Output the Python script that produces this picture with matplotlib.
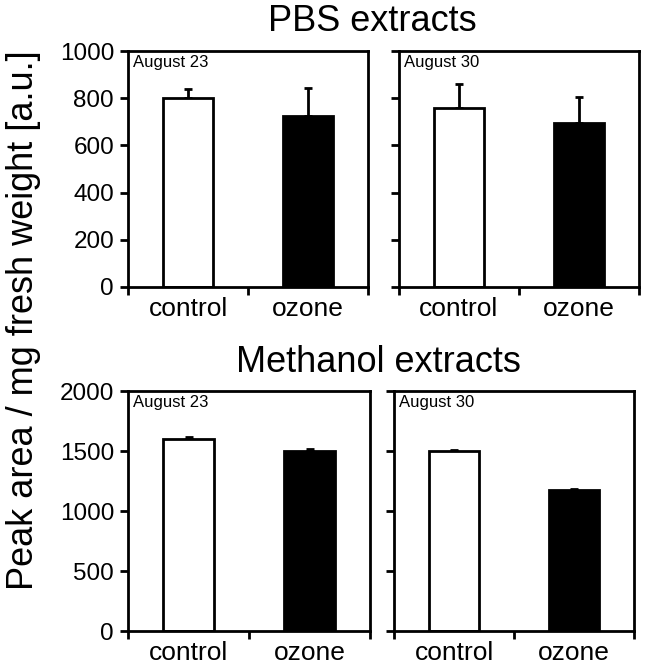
import matplotlib
matplotlib.use("Agg")
import matplotlib.pyplot as plt

plt.rcParams['font.family'] = ['Liberation Sans', 'DejaVu Sans']

categories = ["control", "ozone"]
dates = ["August 23", "August 30"]
pbs_values = [[800, 725], [760, 695]]
pbs_errors = [[40, 120], [100, 110]]
meth_values = [[1600, 1500], [1500, 1175]]
meth_errors = [[20, 15], [5, 5]]
pbs_ticks = [0, 200, 400, 600, 800, 1000]
meth_ticks = [0, 500, 1000, 1500, 2000]

W, H = 647, 672
fig = plt.figure(figsize=(W / 100, H / 100), dpi=100)

def ax_at(l, t, r, b):
    return fig.add_axes([l / W, 1 - b / H, (r - l) / W, (b - t) / H])

boxes = [
    [(128, 51, 368, 287), (399, 51, 639, 287)],
    [(128, 391, 370, 631), (394, 391, 634, 631)],
]
rows = [(pbs_values, pbs_errors, pbs_ticks, 1000), (meth_values, meth_errors, meth_ticks, 2000)]

for r, (vals, errs, ticks, ymax) in enumerate(rows):
    for c in range(2):
        ax = ax_at(*boxes[r][c])
        x = [0.5, 1.5]
        ax.bar(x, vals[c], width=0.42, color=['white', 'black'], edgecolor='black',
               linewidth=2, zorder=2)
        ax.errorbar(x, vals[c], yerr=[[0, 0], errs[c]], fmt='none', ecolor='black',
                    elinewidth=2, capsize=3, capthick=2, zorder=1)
        ax.set_xlim(0, 2)
        ax.set_ylim(0, ymax)
        ax.set_xticks([0, 1, 2])
        ax.set_xticklabels([])
        ax.set_xticks(x, minor=True)
        ax.set_xticklabels(categories, minor=True, fontsize=19)
        ax.tick_params(axis='x', which='major', direction='out', length=6, width=2)
        ax.tick_params(axis='x', which='minor', length=0, pad=7)
        ax.set_yticks(ticks)
        ax.tick_params(axis='y', direction='out', length=6, width=2, labelsize=17.5, pad=4)
        if c == 1:
            ax.set_yticklabels([])
        for s in ax.spines.values():
            s.set_linewidth(2)
        ax.text(0.02, 0.985, dates[c], transform=ax.transAxes, ha='left', va='top', fontsize=12)

fig.text(372 / W, 1 - 31 / H, "PBS extracts", ha='center', va='baseline', fontsize=26)
fig.text(378 / W, 1 - 372 / H, "Methanol extracts", ha='center', va='baseline', fontsize=26)
fig.text(24 / W, 1 - 320 / H, "Peak area / mg fresh weight [a.u.]", ha='center', va='center',
         rotation=90, fontsize=26)

fig.savefig("out.png", dpi=100)
